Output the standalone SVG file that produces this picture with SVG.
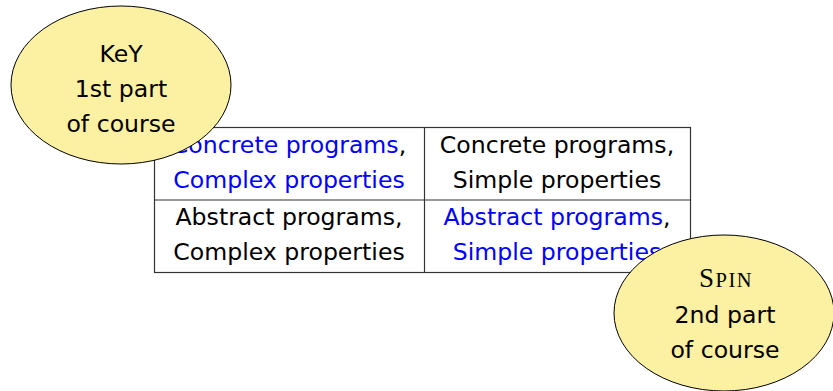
<svg xmlns="http://www.w3.org/2000/svg" width="833" height="391" viewBox="0 0 833 391">
<style>
.t{font-family:"DejaVu Sans","Liberation Sans",sans-serif;font-size:23.6px;text-anchor:middle;fill:#000}
.b{fill:#0000ff}
.grid{stroke:#333;stroke-width:1.2;fill:none}
.el{fill:#fcf0a2;stroke:#000;stroke-width:1}
</style>
<rect width="833" height="391" fill="#fff"/>
<g id="table">
<rect class="grid" x="154.5" y="127.5" width="536" height="145"/>
<line class="grid" x1="154.5" y1="200" x2="690.5" y2="200"/>
<line class="grid" x1="424.5" y1="127.5" x2="424.5" y2="272.5"/>
</g>
<g id="cell-cc">
<text class="t" x="289" y="153"><tspan class="b">Concrete programs</tspan>,</text>
<text class="t b" x="289" y="188">Complex properties</text>
</g>
<g id="cell-cs">
<text class="t" x="557" y="153">Concrete programs,</text>
<text class="t" x="557" y="188">Simple properties</text>
</g>
<g id="cell-ac">
<text class="t" x="289" y="225">Abstract programs,</text>
<text class="t" x="289" y="260">Complex properties</text>
</g>
<g id="cell-as">
<text class="t" x="557" y="225"><tspan class="b">Abstract programs</tspan>,</text>
<text class="t b" x="557" y="260">Simple properties</text>
</g>
<g id="key">
<ellipse class="el" cx="121" cy="85" rx="110" ry="79"/>
<text class="t" x="121" y="62">KeY</text>
<text class="t" x="121" y="97">1st part</text>
<text class="t" x="121" y="132">of course</text>
</g>
<g id="spin">
<ellipse class="el" cx="724" cy="313" rx="110" ry="78"/>
<text class="t" x="726" y="287" style="font-family:'Liberation Serif','DejaVu Serif',serif;letter-spacing:1.5px"><tspan font-size="27">S</tspan><tspan font-size="20.5">PIN</tspan></text>
<text class="t" x="725" y="323">2nd part</text>
<text class="t" x="725" y="358">of course</text>
</g>
</svg>
